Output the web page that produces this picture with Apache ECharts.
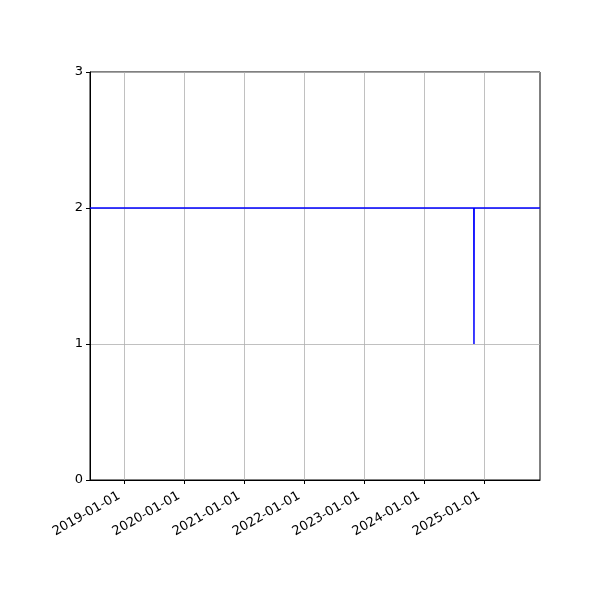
<!DOCTYPE html>
<html>
<head>
<meta charset="utf-8">
<script src="https://cdn.jsdelivr.net/npm/echarts@6/dist/echarts.min.js"></script>
<style>html,body{margin:0;padding:0;background:#fff}#c{width:600px;height:600px}</style>
</head>
<body>
<div id="c"></div>
<script>
var dates = ['2018-06-06', '2024-10-29', '2024-10-30', '2024-10-31', '2025-12-06'];
var values = [2, 2, 1, 2, 2];
var xTickLabels = ['2019-01-01', '2020-01-01', '2021-01-01', '2022-01-01', '2023-01-01', '2024-01-01', '2025-01-01'];
var yTicks = [0, 1, 2, 3];
var xRange = ['2018-06-06', '2025-12-06'];

function ts(s) { var p = s.split('-'); return Date.UTC(+p[0], +p[1] - 1, +p[2]); }
var data = dates.map(function (d, i) { return [ts(d), values[i]]; });
var xTicks = xTickLabels.map(ts);

var chart = echarts.init(document.getElementById('c'), null, { renderer: 'canvas' });
chart.setOption({
  animation: false,
  grid: { left: 90, right: 60, top: 72, bottom: 120, show: true, borderColor: '#000', borderWidth: 1, backgroundColor: 'transparent' },
  xAxis: {
    type: 'value',
    min: ts(xRange[0]),
    max: ts(xRange[1]),
    axisLine: { show: true, lineStyle: { color: '#000', width: 1 } },
    axisTick: { show: true, customValues: xTicks, length: 4, lineStyle: { color: '#000' } },
    axisLabel: {
      customValues: xTicks, rotate: 30, margin: 12, padding: [0, 6, 0, 0], color: '#000',
      fontFamily: 'DejaVu Sans', fontSize: 13,
      formatter: function (v) { return new Date(v).toISOString().slice(0, 10); }
    },
    splitLine: { show: true, lineStyle: { color: '#b0b0b0', width: 0.8 } }
  },
  yAxis: {
    type: 'value', min: 0, max: 3, interval: 1,
    axisLine: { show: true, lineStyle: { color: '#000', width: 1 } },
    axisTick: { show: true, length: 4, lineStyle: { color: '#000' } },
    axisLabel: { margin: 7, color: '#000', fontFamily: 'DejaVu Sans', fontSize: 13,
      formatter: function (v) { return yTicks.indexOf(v) >= 0 ? String(v) : ''; } },
    splitLine: { show: true, lineStyle: { color: '#b0b0b0', width: 0.8 } }
  },
  series: [{
    type: 'line', data: data, showSymbol: false, symbol: 'none',
    lineStyle: { color: '#0000ff', width: 1.5 }, z: 5
  }]
});
</script>
</body>
</html>
